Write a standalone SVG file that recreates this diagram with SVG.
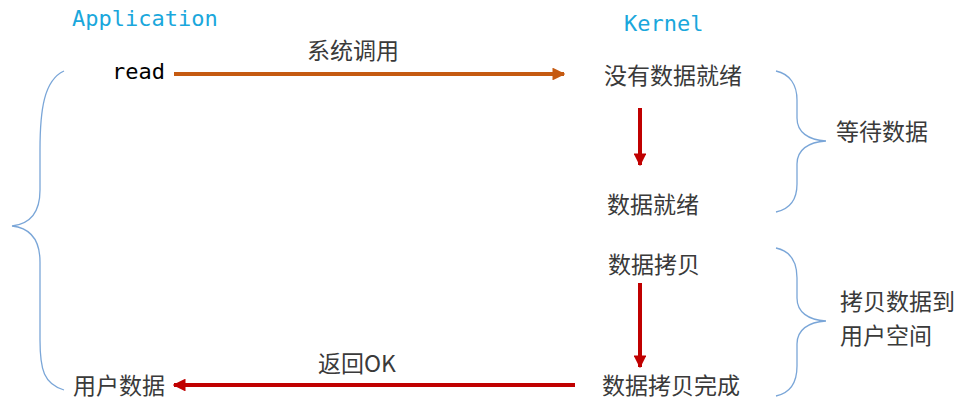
<svg xmlns="http://www.w3.org/2000/svg" width="973" height="414" viewBox="0 0 973 414">
<style>
.mono{font-family:"DejaVu Sans Mono","Liberation Mono",monospace;font-size:22px}
.title{fill:#1aa7dc}
.cn{font-family:"Noto Sans CJK SC","Noto Sans",sans-serif;font-size:23px;fill:#3a3a3a}
.brace{fill:none;stroke:#7aa6d8;stroke-width:1.3}
</style>
<defs>
<marker id="ah-o" viewBox="0 0 10 10" refX="9" refY="5" markerWidth="3.2" markerHeight="3.2" orient="auto" markerUnits="strokeWidth"><path d="M0,0 L10,5 L0,10 z" fill="#c55a11"/></marker>
<marker id="ah-r" viewBox="0 0 10 10" refX="9" refY="5" markerWidth="3.2" markerHeight="3.2" orient="auto" markerUnits="strokeWidth"><path d="M0,0 L10,5 L0,10 z" fill="#c00000"/></marker>
</defs>
<g id="app-title"><text class="mono title" x="72" y="26">Application</text></g>
<g id="kernel-title"><text class="mono title" x="624" y="31">Kernel</text></g>
<g id="read"><text class="mono" x="112" y="79" fill="#000">read</text></g>
<g id="no-data"><text class="cn" x="604" y="84">没有数据就绪</text></g>
<g id="data-ready"><text class="cn" x="607" y="213">数据就绪</text></g>
<g id="copy"><text class="cn" x="608" y="273">数据拷贝</text></g>
<g id="copy-done"><text class="cn" x="602" y="394">数据拷贝完成</text></g>
<g id="user-data"><text class="cn" x="73" y="394">用户数据</text></g>
<g id="wait"><text class="cn" x="836" y="140">等待数据</text></g>
<g id="copy-user"><text class="cn" x="840" y="310">拷贝数据到</text><text class="cn" x="840" y="344">用户空间</text></g>
<g id="braces">
<path class="brace" d="M64,71 C44,80 40,110 40,150 L40,190 C40,212 30,224 12,226 C30,228 40,240 40,262 L40,340 C40,370 44,384 64,390"/>
<path class="brace" d="M776,71 C790,74 797,85 797,100 L797,118 C797,132 808,140 826,141 C808,142 797,150 797,164 L797,184 C797,200 790,209 776,212"/>
<path class="brace" d="M776,248 C790,251 797,262 797,278 L797,298 C797,312 808,320 826,321 C808,322 797,330 797,344 L797,366 C797,382 790,393 776,396"/>
</g>
<g id="connectors">
<line x1="174" y1="74" x2="564" y2="74" stroke="#c55a11" stroke-width="4" marker-end="url(#ah-o)"/>
<text class="cn" x="353" y="59" text-anchor="middle" font-size="21">系统调用</text>
<line x1="640" y1="108" x2="640" y2="165" stroke="#c00000" stroke-width="4" marker-end="url(#ah-r)"/>
<line x1="640" y1="283" x2="640" y2="367" stroke="#c00000" stroke-width="4" marker-end="url(#ah-r)"/>
<line x1="575" y1="385" x2="174" y2="385" stroke="#c00000" stroke-width="4" marker-end="url(#ah-r)"/>
<text class="cn" x="357" y="372" text-anchor="middle" font-size="21">返回OK</text>
</g>
</svg>
